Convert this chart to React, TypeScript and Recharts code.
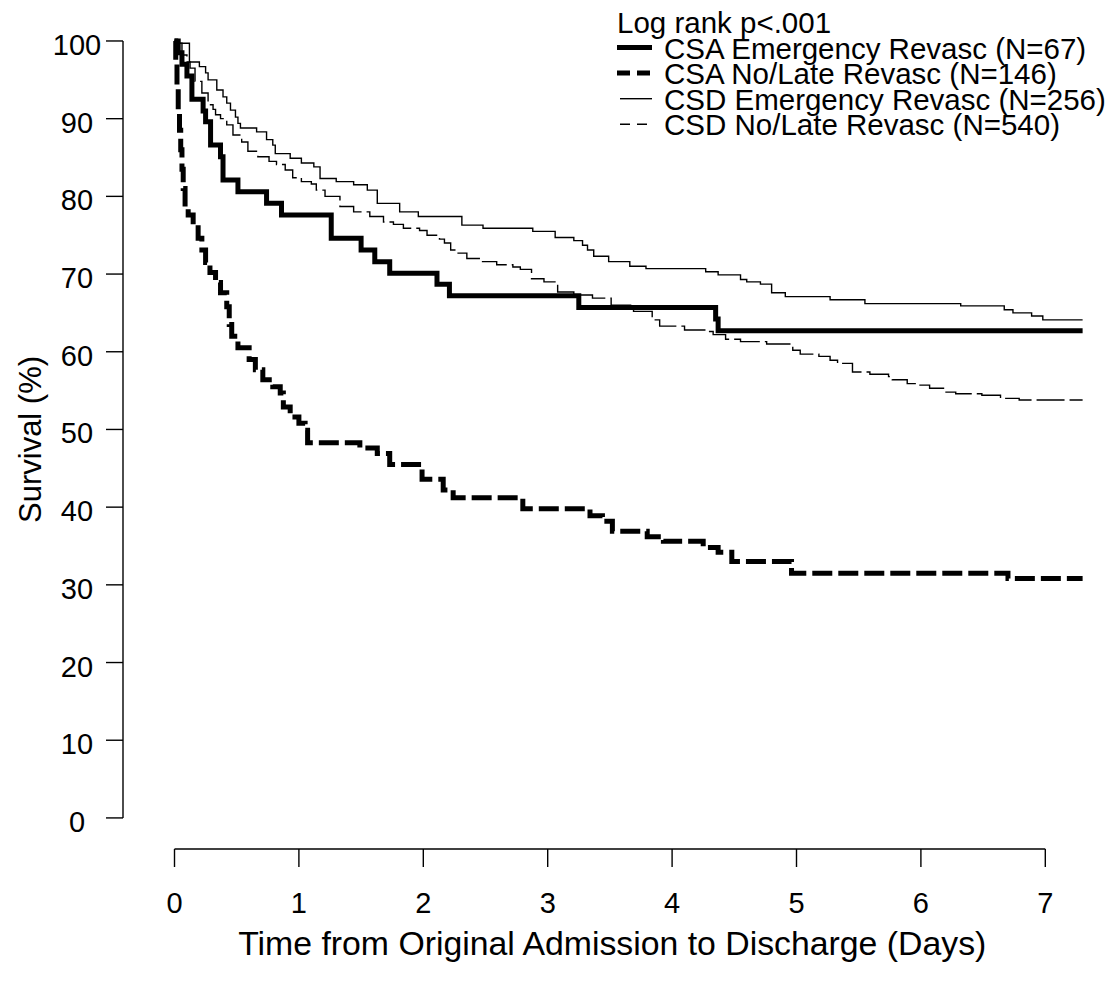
import React from 'react';
import { Label, Legend, Line, LineChart, ReferenceLine, XAxis, YAxis } from 'recharts';

// Kaplan-Meier estimates: [days, survival %]
const csaEmergency: [number, number][] = [
  [0, 100], [0.03, 98.5], [0.06, 97], [0.1, 95.5], [0.14, 92.5], [0.23, 91], [0.25, 89.6],
  [0.29, 86.6], [0.37, 85.1], [0.39, 82.1], [0.51, 80.6], [0.74, 79.1], [0.86, 77.6],
  [1.26, 74.6], [1.5, 73.1], [1.61, 71.6], [1.73, 70.1], [2.11, 68.7], [2.21, 67.2],
  [3.25, 65.7], [4.35, 64.2], [4.37, 62.7], [7.3, 62.7],
];

const csaNoLate: [number, number][] = [
  [0, 100], [0.01, 97], [0.02, 94], [0.03, 91], [0.04, 88.5], [0.05, 86], [0.06, 83.5],
  [0.07, 81], [0.085, 78.5], [0.11, 77.6], [0.15, 76.3], [0.19, 74.6], [0.22, 73.1],
  [0.25, 71.5], [0.285, 70.2], [0.33, 68.9], [0.37, 67.6], [0.42, 65.8], [0.44, 63.5],
  [0.46, 62], [0.51, 60.5], [0.6, 59], [0.65, 57.7], [0.71, 56.4], [0.79, 55.5], [0.85, 54.7],
  [0.875, 52.9], [0.93, 51.6], [1.0, 50.8], [1.05, 49.9], [1.07, 48.3], [1.49, 47.6],
  [1.63, 46.9], [1.73, 45.5], [1.99, 43.6], [2.16, 42.2], [2.24, 41.2], [2.8, 39.8],
  [3.34, 38.9], [3.44, 38.2], [3.52, 36.9], [3.8, 36.2], [3.93, 35.6], [4.25, 34.8],
  [4.37, 34.2], [4.48, 33.0], [4.96, 31.5], [6.7, 30.8], [7.3, 30.8],
];

const csdEmergency: [number, number][] = [
  [0, 100], [0.03, 99.7], [0.12, 97.3], [0.2, 96.7], [0.25, 95.9], [0.27, 95], [0.34, 93.7],
  [0.39, 92.8], [0.42, 92.0], [0.45, 91.1], [0.49, 90.2], [0.51, 89.4], [0.53, 88.8],
  [0.66, 88.3], [0.74, 87.3], [0.79, 86.6], [0.81, 85.5], [0.93, 84.9], [1.02, 84.3],
  [1.12, 83.8], [1.17, 82.3], [1.3, 81.9], [1.44, 81.5], [1.55, 80.8], [1.63, 79.1],
  [1.81, 78.0], [1.96, 77.4], [2.31, 76.3], [2.48, 75.9], [2.88, 75.5], [3.06, 74.7],
  [3.21, 74.3], [3.28, 73.7], [3.32, 73.1], [3.37, 72.3], [3.49, 71.6], [3.66, 71.0],
  [3.79, 70.7], [4.27, 70.3], [4.37, 69.9], [4.55, 69.3], [4.6, 69.0], [4.71, 68.7],
  [4.8, 67.6], [4.91, 67.1], [5.27, 66.7], [5.55, 66.2], [6.32, 65.9], [6.67, 65.4],
  [6.74, 65.0], [6.89, 64.6], [6.98, 64.1], [7.3, 64.1],
];

const csdNoLate: [number, number][] = [
  [0, 100], [0.02, 99.7], [0.06, 98.2], [0.1, 97.3], [0.125, 96.5], [0.165, 94.8], [0.22, 93.3],
  [0.27, 91.8], [0.31, 91.2], [0.33, 90.5], [0.37, 90.0], [0.42, 89.2], [0.47, 87.9],
  [0.54, 87.0], [0.59, 85.8], [0.67, 85.1], [0.76, 84.5], [0.82, 84.1], [0.89, 83.4],
  [0.95, 82.4], [1.02, 81.9], [1.1, 81.6], [1.14, 80.8], [1.21, 80.0], [1.33, 78.7],
  [1.44, 78.0], [1.57, 77.4], [1.68, 76.7], [1.76, 76.4], [1.84, 75.9], [1.97, 75.6],
  [2.03, 75.0], [2.13, 74.5], [2.17, 74.0], [2.22, 73.1], [2.27, 72.7], [2.35, 72.0],
  [2.46, 71.6], [2.59, 71.2], [2.72, 70.9], [2.78, 70.6], [2.87, 69.4], [2.97, 69.0],
  [3.08, 67.7], [3.21, 67.3], [3.36, 66.9], [3.51, 66.0], [3.69, 65.2], [3.84, 64.1],
  [3.9, 63.3], [4.1, 62.8], [4.28, 62.6], [4.33, 62.2], [4.43, 61.6], [4.55, 61.3],
  [4.76, 61.0], [4.97, 60.2], [5.03, 59.7], [5.18, 59.4], [5.27, 58.9], [5.33, 58.5],
  [5.45, 57.4], [5.59, 57.1], [5.74, 56.8], [5.77, 56.4], [5.89, 55.9], [5.98, 55.7],
  [6.07, 55.3], [6.19, 54.8], [6.28, 54.6], [6.49, 54.4], [6.64, 54.0], [6.79, 53.8],
  [7.3, 53.8],
];

const xTicks = [0, 1, 2, 3, 4, 5, 6, 7];
const yTicks = [0, 10, 20, 30, 40, 50, 60, 70, 80, 90, 100];
const X_MIN = -0.414;
const X_MAX = 7.5;
const Y_MIN = -4;
const Y_MAX = 104;

const FONT = '"Liberation Sans", Arial, Helvetica, sans-serif';

const series = [
  { key: 'csaEm', name: 'CSA Emergency Revasc (N=67)', pts: csaEmergency, width: 5, dash: undefined, legendDash: undefined },
  { key: 'csaNo', name: 'CSA No/Late Revasc (N=146)', pts: csaNoLate, width: 5, dash: '20 6', legendDash: '13 7' },
  { key: 'csdEm', name: 'CSD Emergency Revasc (N=256)', pts: csdEmergency, width: 1.4, dash: undefined, legendDash: undefined },
  { key: 'csdNo', name: 'CSD No/Late Revasc (N=540)', pts: csdNoLate, width: 1.4, dash: '28 5', legendDash: '10 7' },
];

const toRows = (pts: [number, number][]) => pts.map(([t, s]) => ({ t, s }));

const renderLegend = () => (
  <svg width={518} height={150} style={{ display: 'block', overflow: 'visible' }}>
    <text x={17} y={32.5} fontSize={29.5} fontFamily={FONT} fill="#000">
      Log rank p&lt;.001
    </text>
    {series.map((s, i) => {
      const cy = 47.5 + i * 25.6;
      const thin = s.width < 2;
      return (
        <g key={s.key}>
          <line
            x1={thin ? 20 : 17}
            x2={52}
            y1={cy}
            y2={cy}
            stroke="#000"
            strokeWidth={s.width}
            strokeDasharray={s.legendDash}
          />
          <text x={64} y={cy + 11} fontSize={29.5} fontFamily={FONT} fill="#000">
            {s.name}
          </text>
        </g>
      );
    })}
  </svg>
);

export default function App() {
  return (
    <div style={{ position: 'absolute', left: 0, top: 0, width: 1118, height: 991, background: '#fff' }}>
      <LineChart width={1118} height={991} margin={{ top: 9.9, right: 10.5, bottom: 32, left: 0 }}>
        <XAxis
          type="number"
          dataKey="t"
          domain={[X_MIN, X_MAX]}
          allowDataOverflow
          ticks={xTicks}
          interval={0}
          height={110}
          axisLine={false}
          tickSize={18}
          tickMargin={0}
          tickLine={{ stroke: '#000', strokeWidth: 1.4 }}
          tick={(p: any) => (
            <text x={p.x} y={p.y + 46} textAnchor="middle" fontSize={29} fontFamily={FONT} fill="#000">
              {p.payload.value}
            </text>
          )}
        >
          <Label
            content={(p: any) => {
              const vb = p.viewBox;
              return (
                <text
                  x={vb.x + vb.width / 2 - 3}
                  y={vb.y + 106}
                  textAnchor="middle"
                  fontSize={33.8}
                  fontFamily={FONT}
                  fill="#000"
                >
                  Time from Original Admission to Discharge (Days)
                </text>
              );
            }}
          />
        </XAxis>
        <YAxis
          type="number"
          domain={[Y_MIN, Y_MAX]}
          allowDataOverflow
          ticks={yTicks}
          interval={0}
          width={123}
          axisLine={false}
          tickSize={17}
          tickMargin={0}
          tickLine={{ stroke: '#000', strokeWidth: 1.4 }}
          tick={(p: any) => (
            <text x={p.x - 29} y={p.y + 14} textAnchor="middle" fontSize={29} fontFamily={FONT} fill="#000">
              {p.payload.value}
            </text>
          )}
        >
          <Label
            content={(p: any) => {
              const vb = p.viewBox;
              const cx = vb.x + 31;
              const cy = vb.y + vb.height / 2 + 10;
              return (
                <text
                  x={cx}
                  y={cy}
                  transform={`rotate(-90 ${cx} ${cy})`}
                  textAnchor="middle"
                  dominantBaseline="central"
                  fontSize={31}
                  fontFamily={FONT}
                  fill="#000"
                >
                  Survival (%)
                </text>
              );
            }}
          />
        </YAxis>
        <ReferenceLine
          segment={[{ x: xTicks[0], y: Y_MIN }, { x: xTicks[xTicks.length - 1], y: Y_MIN }]}
          stroke="#000"
          strokeWidth={1.4}
          ifOverflow="visible"
        />
        <ReferenceLine
          segment={[{ x: X_MIN, y: yTicks[0] }, { x: X_MIN, y: yTicks[yTicks.length - 1] }]}
          stroke="#000"
          strokeWidth={1.4}
          ifOverflow="visible"
        />
        {series.map((s) => (
          <Line
            key={s.key}
            data={toRows(s.pts)}
            dataKey="s"
            name={s.name}
            type="stepAfter"
            stroke="#000"
            strokeWidth={s.width}
            strokeDasharray={s.dash}
            dot={false}
            activeDot={false}
            isAnimationActive={false}
          />
        ))}
        <Legend
          layout="vertical"
          align="center"
          verticalAlign="middle"
          wrapperStyle={{ left: 600, top: 0, width: 518, height: 150 }}
          content={renderLegend}
        />
      </LineChart>
    </div>
  );
}
